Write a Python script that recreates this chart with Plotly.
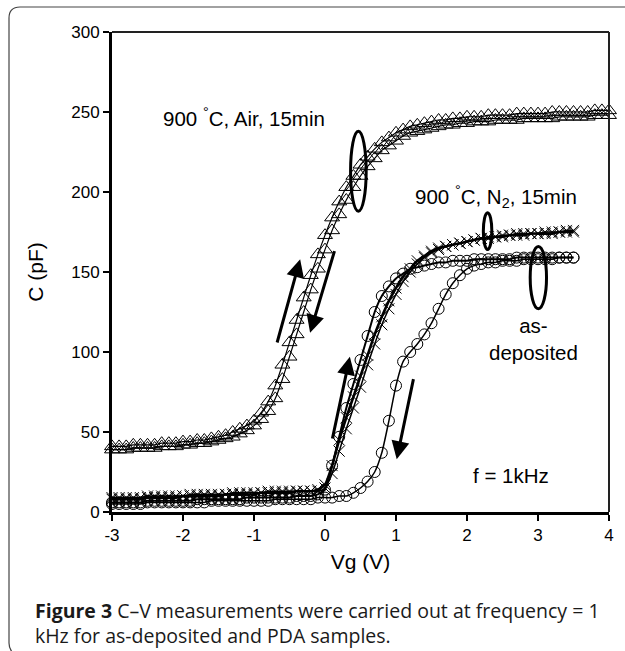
import plotly.graph_objects as go

# ---------------- data ----------------
vg_air = [-3.0, -2.9, -2.8, -2.7, -2.6, -2.5, -2.4, -2.3, -2.2, -2.1,
          -2.0, -1.9, -1.8, -1.7, -1.6, -1.5, -1.4, -1.3, -1.2, -1.1,
          -1.0, -0.9, -0.8, -0.7, -0.6, -0.5, -0.4, -0.3, -0.2, -0.1,
          0.0, 0.1, 0.2, 0.3, 0.4, 0.5, 0.6, 0.7, 0.8, 0.9,
          1.0, 1.1, 1.2, 1.3, 1.4, 1.5, 1.6, 1.7, 1.8, 1.9,
          2.0, 2.1, 2.2, 2.3, 2.4, 2.5, 2.6, 2.7, 2.8, 2.9,
          3.0, 3.1, 3.2, 3.3, 3.4, 3.5, 3.6, 3.7, 3.8, 3.9, 4.0]

c_air_up = [41, 41, 41, 42, 42, 42, 42, 43, 43, 43,
            44, 44, 45, 45, 46, 47, 48, 50, 52, 54,
            57, 62, 69, 79, 92, 106, 120, 134, 148, 161,
            173, 184, 194, 203, 210, 217, 222, 227, 231, 234,
            237, 239, 241, 242, 243, 244, 245, 245, 246, 246,
            247, 247, 247, 248, 248, 248, 248, 249, 249, 249,
            249, 249, 250, 250, 250, 250, 250, 250, 251, 251, 251]

c_air_down = [39, 39, 39, 40, 40, 40, 40, 41, 41, 41,
              42, 42, 43, 43, 44, 45, 46, 47, 49, 51,
              54, 58, 63, 71, 83, 97, 111, 125, 139, 152,
              164, 176, 186, 195, 203, 210, 216, 221, 226, 229,
              232, 235, 237, 238, 239, 240, 241, 242, 242, 243,
              243, 244, 244, 244, 245, 245, 245, 245, 246, 246,
              246, 246, 246, 247, 247, 247, 247, 247, 248, 248, 248]

vg_low = [-3.0, -2.9, -2.8, -2.7, -2.6, -2.5, -2.4, -2.3, -2.2, -2.1,
          -2.0, -1.9, -1.8, -1.7, -1.6, -1.5, -1.4, -1.3, -1.2, -1.1,
          -1.0, -0.9, -0.8, -0.7, -0.6, -0.5, -0.4, -0.3, -0.2, -0.1,
          0.0, 0.1, 0.2, 0.3, 0.4, 0.5, 0.6, 0.7, 0.8, 0.9,
          1.0, 1.1, 1.2, 1.3, 1.4, 1.5, 1.6, 1.7, 1.8, 1.9,
          2.0, 2.1, 2.2, 2.3, 2.4, 2.5, 2.6, 2.7, 2.8, 2.9,
          3.0, 3.1, 3.2, 3.3, 3.4, 3.5]

c_n2_up = [8, 8, 8, 8, 8, 9, 9, 9, 9, 9,
           10, 10, 10, 10, 10, 10, 11, 11, 11, 11,
           11, 12, 12, 12, 12, 12, 13, 13, 13, 14,
           17, 29, 45, 59, 72, 85, 98, 111, 122, 132,
           140, 147, 152, 157, 160, 163, 165, 166, 167, 168,
           169, 170, 171, 171, 172, 172, 173, 173, 173, 174,
           174, 174, 174, 175, 175, 175]

c_n2_down = [9, 9, 9, 9, 9, 10, 10, 10, 10, 10,
             10, 11, 11, 11, 11, 11, 11, 12, 12, 12,
             12, 12, 13, 13, 13, 13, 13, 13, 13, 13,
             15, 24, 38, 52, 65, 78, 92, 105, 117, 127,
             136, 144, 150, 155, 159, 162, 164, 166, 167, 168,
             169, 170, 171, 172, 172, 173, 173, 174, 174, 174,
             174, 175, 175, 175, 176, 176]

c_asdep_up = [6, 6, 6, 6, 6, 7, 7, 7, 7, 7,
              7, 7, 8, 8, 8, 8, 8, 8, 8, 9,
              9, 9, 9, 9, 9, 9, 10, 10, 10, 11,
              14, 29, 47, 65, 80, 95, 110, 125, 135, 141,
              146, 149, 152, 153, 154, 155, 156, 156, 157, 157,
              157, 158, 158, 158, 158, 158, 158, 159, 159, 159,
              159, 159, 159, 159, 159, 159]

c_asdep_down = [5, 5, 5, 5, 5, 6, 6, 6, 6, 6,
                6, 6, 6, 6, 7, 7, 7, 7, 7, 7,
                7, 7, 7, 8, 8, 8, 8, 8, 8, 9,
                9, 9, 10, 10, 12, 15, 19, 25, 37, 57,
                79, 94, 100, 105, 111, 118, 127, 136, 143, 148,
                152, 154, 155, 156, 156, 157, 157, 157, 158, 158,
                158, 158, 158, 159, 159, 159]

x_ticks = [-3, -2, -1, 0, 1, 2, 3, 4]
y_ticks = [0, 50, 100, 150, 200, 250, 300]

caption_line1 = "<b>Figure 3</b> C–V measurements were carried out at frequency = 1"
caption_line2 = "kHz for as-deposited and PDA samples."

# ---------------- layout geometry ----------------
W, H = 625, 651
ML, MR, MT, MB = 112, 16, 32, 139
PW, PH = W - ML - MR, H - MT - MB


def px(xp):
    return (xp - ML) / PW


def py(yp):
    return (H - MB - yp) / PH


FONT = "Arial"

fig = go.Figure()


def add_branch(x, y, symbol, lw, msize):
    fig.add_trace(go.Scatter(
        x=x, y=y, mode="lines+markers",
        line=dict(color="black", width=lw, shape="spline", smoothing=0.6),
        marker=dict(symbol=symbol, size=msize, color="black",
                    line=dict(color="black", width=1)),
        cliponaxis=False, showlegend=False, hoverinfo="x+y"))


add_branch(vg_air, c_air_up, "triangle-up-open", 1.2, 13)
add_branch(vg_air, c_air_down, "triangle-up-open", 1.2, 13)
add_branch(vg_low, c_asdep_up, "circle-open", 2.0, 11)
add_branch(vg_low, c_asdep_down, "circle-open", 1.5, 11)
add_branch(vg_low, c_n2_up, "x-thin-open", 2.6, 11)
add_branch(vg_low, c_n2_down, "x-thin-open", 1.5, 11)

shapes = []
# ellipses
for x0, x1, y0, y1 in [(0.36, 0.58, 188, 238), (2.23, 2.35, 164, 187),
                       (2.89, 3.12, 127, 166)]:
    shapes.append(dict(type="circle", xref="x", yref="y", x0=x0, x1=x1,
                       y0=y0, y1=y1, line=dict(color="black", width=3)))
# top & right frame lines
shapes.append(dict(type="line", xref="paper", yref="paper", x0=0, x1=1,
                   y0=1, y1=1, line=dict(color="#222", width=2)))
shapes.append(dict(type="line", xref="paper", yref="paper", x0=1, x1=1,
                   y0=0, y1=1, line=dict(color="#222", width=2)))
# outer rounded border
r = 11
bx0, by0 = 9, 7
path = (f"M {px(W + 20)},{py(by0)} L {px(bx0 + r)},{py(by0)} "
        f"Q {px(bx0)},{py(by0)} {px(bx0)},{py(by0 + r)} "
        f"L {px(bx0)},{py(H - 8)} Q {px(bx0)},{py(H - 2)} {px(bx0 + 4)},{py(H + 2)}")
shapes.append(dict(type="path", xref="paper", yref="paper", path=path,
                   line=dict(color="#444", width=1.2)))

annotations = []
# arrows
for (hx, hy, tx, ty) in [(-0.35, 158, -0.68, 105), (-0.21, 112, 0.14, 164),
                         (0.35, 97, 0.10, 45), (1.01, 33, 1.25, 84)]:
    annotations.append(dict(x=hx, y=hy, ax=tx, ay=ty, xref="x", yref="y",
                            axref="x", ayref="y", text="", showarrow=True,
                            arrowhead=2, arrowsize=1.2, arrowwidth=3,
                            arrowcolor="black", standoff=0, startstandoff=0))
# labels
lab_font = dict(family=FONT, size=20.5, color="black")
cap_font = dict(family="Open Sans", size=19.5, color="#1a1a1a")
annotations += [
    dict(x=-1.14, y=247, xref="x", yref="y", showarrow=False,
         text="900 <sup>°</sup>C, Air, 15min", font=lab_font),
    dict(x=2.41, y=197, xref="x", yref="y", showarrow=False,
         text="900 <sup>°</sup>C, N<sub>2</sub>, 15min", font=lab_font),
    dict(x=2.93, y=108, xref="x", yref="y", showarrow=False,
         text="as-<br>deposited", font=lab_font),
    dict(x=2.62, y=23, xref="x", yref="y", showarrow=False,
         text="f = 1kHz", font=lab_font),
    dict(x=px(34), y=py(610), xref="paper", yref="paper", showarrow=False,
         xanchor="left", yanchor="middle", align="left", borderpad=0,
         text=caption_line1, font=cap_font),
    dict(x=px(34), y=py(635.5), xref="paper", yref="paper", showarrow=False,
         xanchor="left", yanchor="middle", align="left", borderpad=0,
         text=caption_line2, font=cap_font),
]

axis_common = dict(showgrid=False, zeroline=False, showline=True,
                   linecolor="black", linewidth=3, ticks="outside",
                   ticklen=6, tickwidth=2, tickcolor="black",
                   tickfont=dict(family=FONT, size=17, color="black"))

fig.update_layout(
    width=W, height=H,
    margin=dict(l=ML, r=MR, t=MT, b=MB, autoexpand=False),
    paper_bgcolor="white", plot_bgcolor="white",
    font=dict(family=FONT),
    xaxis=dict(range=[-3, 4], tickvals=x_ticks, ticktext=[str(v) for v in x_ticks],
               title=dict(text="Vg (V)", font=dict(family=FONT, size=21, color="black"),
                          standoff=10),
               **axis_common),
    yaxis=dict(range=[0, 300], tickvals=y_ticks, ticktext=[str(v) for v in y_ticks],
               title=dict(text="C (pF)", font=dict(family=FONT, size=21, color="black"),
                          standoff=22),
               **axis_common),
    shapes=shapes, annotations=annotations,
)

fig.write_html("out.html")
